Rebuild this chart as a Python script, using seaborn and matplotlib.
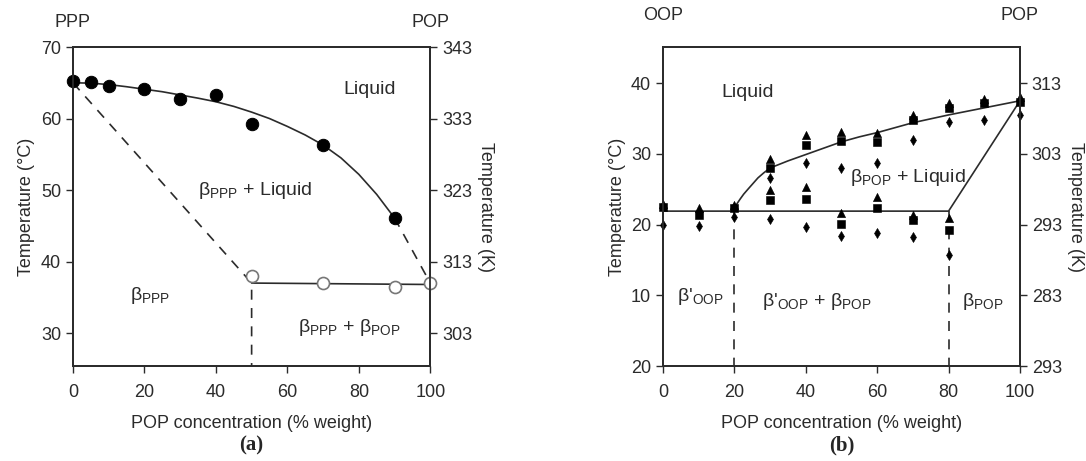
import numpy as np
import pandas as pd
import seaborn as sns
import matplotlib.pyplot as plt

# ---- panel (a): PPP / POP ----
a_liq_x = [0, 5, 10, 20, 30, 40, 50, 70, 90]
a_liq_t = [65.3, 65.1, 64.6, 64.1, 62.8, 63.3, 59.2, 56.3, 46.1]
a_sol_x = [50, 70, 90, 100]
a_sol_t = [38.0, 37.0, 36.4, 37.0]

# boundary lines
a_curve_x = [0, 5, 10, 15, 20, 25, 30, 35, 40, 45, 50, 55, 60, 65, 70, 75, 80, 85, 90]
a_curve_t = [65.0, 64.95, 64.75, 64.45, 64.1, 63.75, 63.3, 62.85, 62.35, 61.7, 60.9,
             60.0, 58.9, 57.7, 56.3, 54.5, 52.2, 49.4, 46.1]
a_curve_end_x = [90, 100]
a_curve_end_t = [46.1, 37.0]
a_eut_x = [50, 100]
a_eut_t = [37.0, 36.8]
a_dash_x = [0, 50, 50]
a_dash_t = [65.0, 37.0, 25.4]

# ---- panel (b): OOP / POP ----
b_x = [0, 10, 20, 30, 30, 40, 40, 50, 50, 60, 60, 70, 70, 80, 80, 90, 100]
b_tri = [22.9, 22.4, 22.8, 29.3, 24.9, 32.7, 25.3, 33.1, 21.6, 32.9, 23.9, 35.5, 21.4, 37.2, 20.9, 37.8, 38.0]
b_sq = [22.5, 21.4, 22.3, 28.0, 23.5, 31.3, 23.6, 31.8, 20.1, 31.7, 22.3, 34.8, 20.6, 36.5, 19.2, 37.2, 37.3]
b_dia = [19.9, 19.8, 21.1, 26.6, 20.8, 28.7, 19.7, 28.0, 18.4, 28.7, 18.8, 32.0, 18.3, 34.5, 15.7, 34.8, 35.5]

b_liq_x = [20, 20.3, 20.8, 21.6, 22.6, 23.8, 25.2, 26.6, 28.2, 30, 35, 40, 45, 50, 55, 60, 70, 80, 90, 100]
b_liq_t = [21.9, 22.6, 23.0, 23.6, 24.3, 25.0, 25.8, 26.6, 27.3, 28.0, 29.0, 29.9, 30.8, 31.7,
           32.4, 33.0, 34.4, 35.5, 36.5, 37.5]
b_sol_x = [0, 80, 100]
b_sol_t = [21.9, 21.9, 37.5]
b_vlines = [20, 80]

b_left_ticks = [0, 10, 20, 30, 40]
b_left_labels = ['20', '10', '20', '30', '40']
b_right_labels = ['293', '283', '293', '303', '313']

sns.set_style("ticks")
plt.rcParams['font.family'] = ['Liberation Sans', 'DejaVu Sans']
plt.rcParams['mathtext.fontset'] = 'custom'
plt.rcParams['mathtext.rm'] = 'Liberation Sans'
plt.rcParams['mathtext.it'] = 'Liberation Sans'
dark = '#2b2b2b'
fs = 13
dash = (0, (6, 5))

fig = plt.figure(figsize=(10.86, 4.61), dpi=100)
axa = fig.add_axes([0.0672, 0.206, 0.329, 0.692])
axb = fig.add_axes([0.6105, 0.206, 0.3287, 0.692])


def style_axes(ax):
    for s in ax.spines.values():
        s.set_color(dark)
        s.set_linewidth(1.3)
    ax.tick_params(direction='out', length=5, width=1, colors=dark,
                   labelsize=fs, labelcolor=dark)


def beta(sub, prime=False):
    p = "'" if prime else ""
    return "β" + p + r"$_{\mathregular{" + sub + r"}}$"


# ---- draw (a) ----
lw = 1.2
sns.lineplot(x=a_curve_x, y=a_curve_t, ax=axa, color=dark, lw=lw, sort=False, estimator=None)
sns.lineplot(x=a_curve_end_x, y=a_curve_end_t, ax=axa, color=dark, lw=lw, ls=dash, sort=False, estimator=None)
sns.lineplot(x=a_eut_x, y=a_eut_t, ax=axa, color=dark, lw=lw, sort=False, estimator=None)
sns.lineplot(x=a_dash_x, y=a_dash_t, ax=axa, color=dark, lw=lw, ls=dash, sort=False, estimator=None)
sns.scatterplot(x=a_liq_x, y=a_liq_t, ax=axa, color='black', s=80, marker='o',
                edgecolor='black', zorder=5, clip_on=False)
sns.scatterplot(x=a_sol_x, y=a_sol_t, ax=axa, facecolor='white', s=75, marker='o',
                edgecolor='#777777', linewidth=1.2, zorder=5, clip_on=False)

axa.set_xlim(0, 100)
axa.set_ylim(25.4, 70)
axa.set_xticks([0, 20, 40, 60, 80, 100])
axa.set_yticks([30, 40, 50, 60, 70])
axa.set_xlabel('POP concentration (% weight)', fontsize=fs, color=dark, labelpad=10)
axa.set_ylabel('Temperature (°C)', fontsize=fs, color=dark, labelpad=4)
style_axes(axa)
axa.tick_params(axis='x', pad=8)

axa2 = axa.twinx()
axa2.set_ylim(25.4 + 273, 70 + 273)
axa2.set_yticks([303, 313, 323, 333, 343])
axa2.set_ylabel('Temperature (K)', fontsize=fs, color=dark, rotation=270, labelpad=16)
style_axes(axa2)

axa.text(0, 72.2, 'PPP', ha='center', va='bottom', fontsize=fs, color=dark)
axa.text(100, 72.2, 'POP', ha='center', va='bottom', fontsize=fs, color=dark)
axa.text(83, 64, 'Liquid', ha='center', va='center', fontsize=fs + 1, color=dark)
axa.text(51, 50, beta('PPP') + ' + Liquid', ha='center', va='center', fontsize=fs + 1, color=dark)
axa.text(21.5, 35.3, beta('PPP'), ha='center', va='center', fontsize=fs + 1, color=dark)
axa.text(77.5, 30.8, beta('PPP') + ' + ' + beta('POP'), ha='center', va='center', fontsize=fs + 1, color=dark)

# ---- draw (b) ----
sns.lineplot(x=b_liq_x, y=b_liq_t, ax=axb, color=dark, lw=lw, sort=False, estimator=None)
sns.lineplot(x=b_sol_x, y=b_sol_t, ax=axb, color=dark, lw=lw, sort=False, estimator=None)
for xv in b_vlines:
    axb.plot([xv, xv], [21.9, 0], color=dark, lw=lw, ls=dash)
sns.scatterplot(x=b_x, y=b_tri, ax=axb, color='black', marker='^', s=34, edgecolor='black', zorder=5, clip_on=False)
sns.scatterplot(x=b_x, y=b_sq, ax=axb, color='black', marker='s', s=26, edgecolor='black', zorder=5, clip_on=False)
sns.scatterplot(x=b_x, y=b_dia, ax=axb, color='black', marker='d', s=26, edgecolor='black', zorder=5, clip_on=False)

axb.set_xlim(0, 100)
axb.set_ylim(0, 45.1)
axb.set_xticks([0, 20, 40, 60, 80, 100])
axb.set_yticks(b_left_ticks)
axb.set_yticklabels(b_left_labels)
axb.set_xlabel('POP concentration (% weight)', fontsize=fs, color=dark, labelpad=10)
axb.set_ylabel('Temperature (°C)', fontsize=fs, color=dark, labelpad=4)
style_axes(axb)
axb.tick_params(axis='x', pad=8)

axb2 = axb.twinx()
axb2.set_ylim(0, 45.1)
axb2.set_yticks(b_left_ticks)
axb2.set_yticklabels(b_right_labels)
axb2.set_ylabel('Temperature (K)', fontsize=fs, color=dark, rotation=270, labelpad=16)
style_axes(axb2)

axb.text(0, 48.3, 'OOP', ha='center', va='bottom', fontsize=fs, color=dark)
axb.text(100, 48.3, 'POP', ha='center', va='bottom', fontsize=fs, color=dark)
axb.text(23.8, 38.6, 'Liquid', ha='center', va='center', fontsize=fs + 1, color=dark)
axb.text(68.6, 26.7, beta('POP') + ' + Liquid', ha='center', va='center', fontsize=fs + 1, color=dark)
axb.text(10.4, 9.9, beta('OOP', True), ha='center', va='center', fontsize=fs + 1, color=dark)
axb.text(43, 9.1, beta('OOP', True) + ' + ' + beta('POP'), ha='center', va='center', fontsize=fs + 1, color=dark)
axb.text(89.6, 9.1, beta('POP'), ha='center', va='center', fontsize=fs + 1, color=dark)

# captions
fig.text(0.2315, 0.012, '(a)', ha='center', va='bottom', fontsize=15, fontweight='bold',
         family=['Liberation Serif', 'DejaVu Serif'])
fig.text(0.775, 0.012, '(b)', ha='center', va='bottom', fontsize=15, fontweight='bold',
         family=['Liberation Serif', 'DejaVu Serif'])

fig.savefig('out.png', dpi=100, facecolor='white')
